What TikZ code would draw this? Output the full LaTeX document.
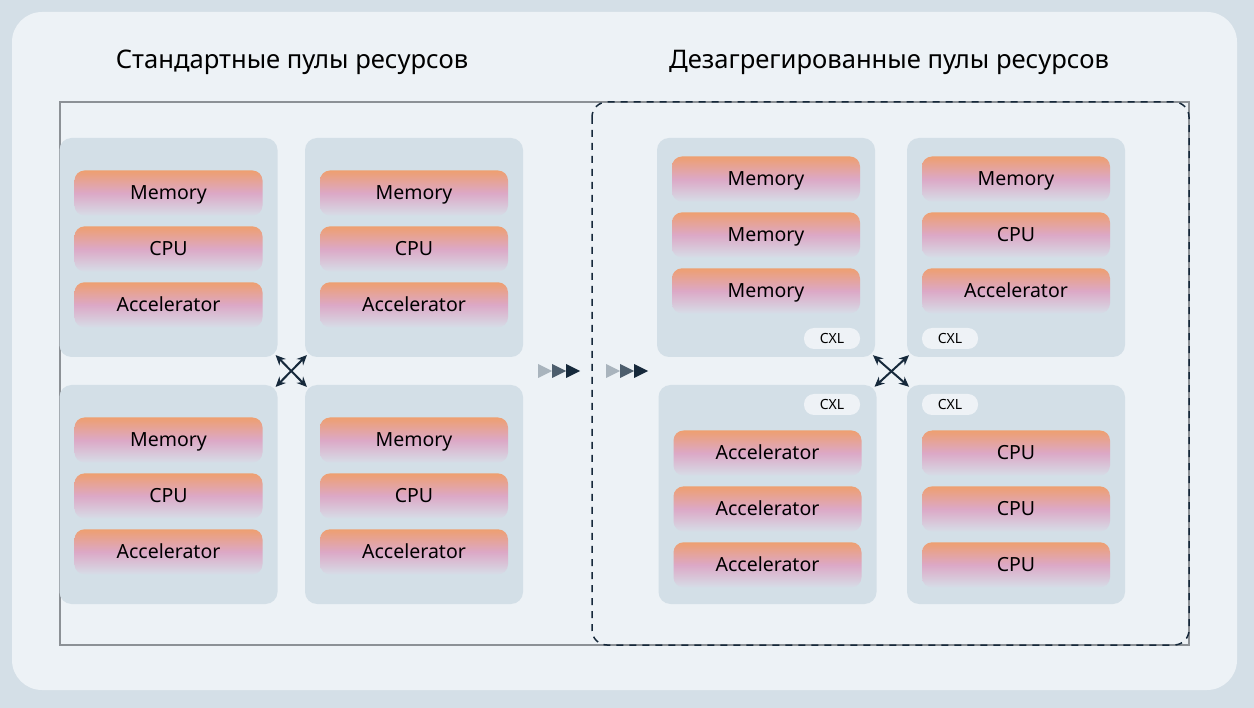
\documentclass[tikz,border=0pt]{standalone}
\usepackage{fontspec}
\setmainfont{Noto Sans}
\usetikzlibrary{arrows.meta,positioning}
\definecolor{pagebg}{HTML}{D4DFE7}
\definecolor{panelbg}{HTML}{EDF2F6}
\definecolor{poolgray}{HTML}{D3DFE7}
\definecolor{framegray}{HTML}{8C9196}
\definecolor{navy}{HTML}{16293B}
\definecolor{barorange}{HTML}{EE9F70}
\definecolor{barpink}{HTML}{DCA8C6}
\definecolor{barfade}{HTML}{D6DDE7}
\definecolor{tagwhite}{HTML}{EEF2F6}
\definecolor{trilight}{HTML}{A9B4BD}
\definecolor{trimid}{HTML}{4D5E6D}
\tikzset{
  poolbox/.style={fill=poolgray, rounded corners=12pt, minimum width=218pt, minimum height=219pt, inner sep=0pt},
  unitbar/.style={rounded corners=10pt, minimum width=188pt, minimum height=45pt, inner sep=0pt,
    text height=13pt, text depth=0pt,
    top color=barorange, bottom color=barfade, middle color=barpink, font=\fontsize{19.5}{22}\selectfont},
  cxltag/.style={fill=tagwhite, rounded corners=10pt, minimum width=56pt, minimum height=21pt, inner sep=0pt,
    text height=9.5pt, text depth=0pt, font=\fontsize{14}{16}\selectfont},
  titletext/.style={font=\fontsize{25.6}{30}\selectfont, text height=18pt, text depth=0pt},
  linkline/.style={{Stealth[length=10pt,width=9pt]}-{Stealth[length=10pt,width=9pt]}, line width=2pt, draw=navy, shorten <=-3pt, shorten >=-3pt}
}
\begin{document}
\begin{tikzpicture}[x=1pt, y=-1pt]
  % background
  \fill[pagebg] (0,0) rectangle (1254,708);
  \fill[panelbg, rounded corners=30pt] (12,12) rectangle (1237,690);
  \useasboundingbox (0,0) rectangle (1254,708);

  \node[titletext] (ttlstd) at (292,60) {Стандартные пулы ресурсов};
  \node[titletext] (ttldis) at (889,60) {Дезагрегированные пулы ресурсов};

  \draw[framegray, line width=1.5pt] (60,102) rectangle (1189,645);
  \draw[navy, line width=1.5pt, dash pattern=on 7pt off 6pt, rounded corners=15pt] (592,102) rectangle (1189,645);

  % standard pools
  \node[poolbox] (p1) at (168.5,247.5) {};
  \node[poolbox] (p2) at (414,247.5) {};
  \node[poolbox] (p3) at (168.5,494.5) {};
  \node[poolbox] (p4) at (414,494.5) {};

  \node[unitbar, below=32.5pt of p1.north] (p1mem) {Memory};
  \node[unitbar, below=10.5pt of p1mem] (p1cpu) {CPU};
  \node[unitbar, below=10.5pt of p1cpu] (p1acc) {Accelerator};

  \node[unitbar, below=32.5pt of p2.north] (p2mem) {Memory};
  \node[unitbar, below=10.5pt of p2mem] (p2cpu) {CPU};
  \node[unitbar, below=10.5pt of p2cpu] (p2acc) {Accelerator};

  \node[unitbar, below=32.5pt of p3.north] (p3mem) {Memory};
  \node[unitbar, below=10.5pt of p3mem] (p3cpu) {CPU};
  \node[unitbar, below=10.5pt of p3cpu] (p3acc) {Accelerator};

  \node[unitbar, below=32.5pt of p4.north] (p4mem) {Memory};
  \node[unitbar, below=10.5pt of p4mem] (p4cpu) {CPU};
  \node[unitbar, below=10.5pt of p4cpu] (p4acc) {Accelerator};

  % disaggregated pools
  \node[poolbox] (p5) at (766,247.5) {};
  \node[poolbox] (p6) at (1016,247.5) {};
  \node[poolbox] (p7) at (767.5,494.5) {};
  \node[poolbox] (p8) at (1016,494.5) {};

  \node[unitbar, below=18.5pt of p5.north] (p5mema) {Memory};
  \node[unitbar, below=10.5pt of p5mema] (p5memb) {Memory};
  \node[unitbar, below=10.5pt of p5memb] (p5memc) {Memory};

  \node[unitbar, below=18.5pt of p6.north] (p6mem) {Memory};
  \node[unitbar, below=10.5pt of p6mem] (p6cpu) {CPU};
  \node[unitbar, below=10.5pt of p6cpu] (p6acc) {Accelerator};

  \node[unitbar, below=45.5pt of p7.north] (p7acca) {Accelerator};
  \node[unitbar, below=10.5pt of p7acca] (p7accb) {Accelerator};
  \node[unitbar, below=10.5pt of p7accb] (p7accc) {Accelerator};

  \node[unitbar, below=45.5pt of p8.north] (p8cpua) {CPU};
  \node[unitbar, below=10.5pt of p8cpua] (p8cpub) {CPU};
  \node[unitbar, below=10.5pt of p8cpub] (p8cpuc) {CPU};

  \node[cxltag] (cxl5) at (832,338.5) {CXL};
  \node[cxltag] (cxl6) at (950,338.5) {CXL};
  \node[cxltag] (cxl7) at (832,404.5) {CXL};
  \node[cxltag] (cxl8) at (950,404.5) {CXL};

  % links
  \draw[linkline] (p1.south east) -- (p4.north west);
  \draw[linkline] (p2.south west) -- (p3.north east);
  \draw[linkline] (p5.south east) -- (p8.north west);
  \draw[linkline] (p6.south west) -- (p7.north east);

  % transition marks
  \foreach \x in {538,606} {
    \fill[trilight] (\x,364) -- (\x+14,371) -- (\x,378) -- cycle;
    \fill[trimid] (\x+14,364) -- (\x+28,371) -- (\x+14,378) -- cycle;
    \fill[navy] (\x+28,364) -- (\x+42,371) -- (\x+28,378) -- cycle;
  }
\end{tikzpicture}
\end{document}
